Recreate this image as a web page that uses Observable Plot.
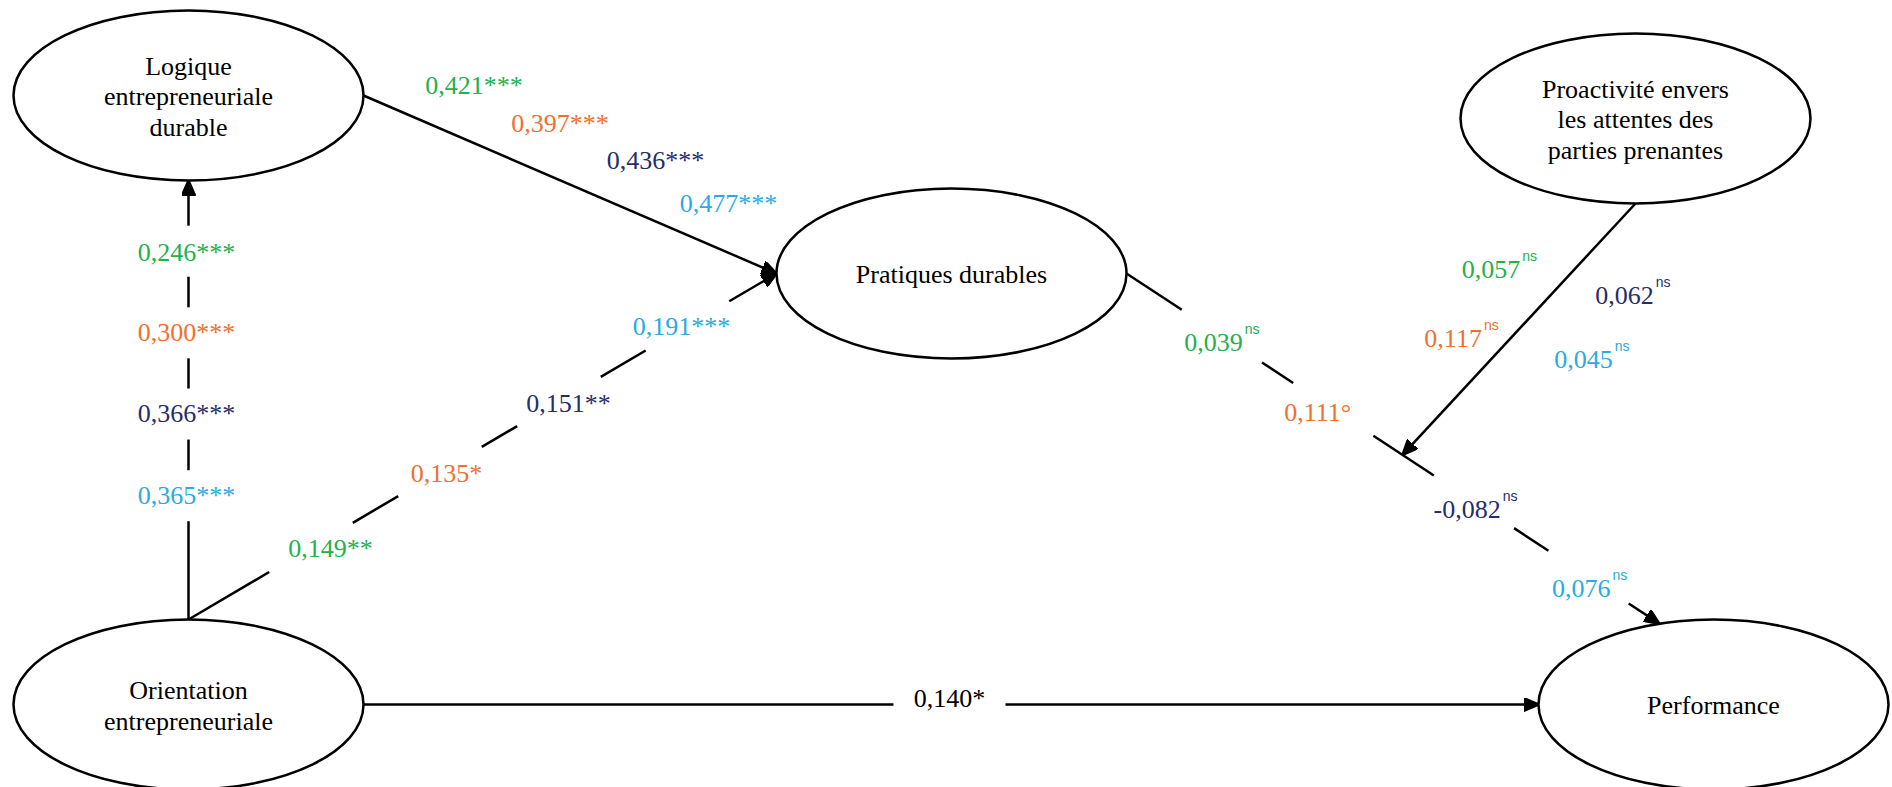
<!DOCTYPE html>
<html>
<head>
<meta charset="utf-8">
<script src="https://cdn.jsdelivr.net/npm/d3@7"></script>
<script src="https://cdn.jsdelivr.net/npm/@observablehq/plot@0.6"></script>
<style>
  html, body { margin: 0; padding: 0; background: #fff; }
  #chart svg { display: block; }
</style>
</head>
<body>
<div id="chart"></div>
<script>
// ---------------- DATA ----------------
const nodeIds = ["LED", "OE", "PD", "PRO", "PERF"];
const nodeLabels = [
  "Logique\nentrepreneuriale\ndurable",
  "Orientation\nentrepreneuriale",
  "Pratiques durables",
  "Proactivité envers\nles attentes des\nparties prenantes",
  "Performance"
];
// path coefficients, one value per group (green, orange, navy, light blue)
const coefOE_LED = [0.246, 0.300, 0.366, 0.365];
const sigOE_LED  = ["***", "***", "***", "***"];
const coefLED_PD = [0.421, 0.397, 0.436, 0.477];
const sigLED_PD  = ["***", "***", "***", "***"];
const coefOE_PD  = [0.149, 0.135, 0.151, 0.191];
const sigOE_PD   = ["**", "*", "**", "***"];
const coefPD_PERF = [0.039, 0.111, -0.082, 0.076];
const sigPD_PERF  = ["ns", "°", "ns", "ns"];
const coefPRO_MOD = [0.057, 0.117, 0.062, 0.045];
const sigPRO_MOD  = ["ns", "ns", "ns", "ns"];
const coefOE_PERF = [0.140];
const sigOE_PERF  = ["*"];

// ---------------- LAYOUT / STYLE ----------------
const W = 1892, H = 787;
const serif = "'Liberation Serif', 'Times New Roman', Times, serif";
const sans = "'Liberation Sans', Arial, sans-serif";
const groupColors = ["#22b14c", "#ee7030", "#262d6b", "#2aaae2"];
const nodePos = {LED: [188, 95], OE: [188, 704], PD: [951, 273], PRO: [1635, 118], PERF: [1713, 704]};
const RX = 175, RY = 85;

// edge: from/to = [node, port angle in degrees] ; place = [t along edge, dx, dy] per label
const edgeDefs = [
  {id: "OE_LED", from: ["OE", -90], to: ["LED", 90], coef: coefOE_LED, sig: sigOE_LED, colors: groupColors, gap: 25.5,
   place: [[0.839, -2, 1], [0.653, -2, 0], [0.468, -2, 0], [0.282, -2, 0]]},
  {id: "LED_PD", from: ["LED", 0], to: ["PD", 180], coef: coefLED_PD, sig: sigLED_PD, colors: groupColors, gap: 0,
   place: [[0.2676, 0, -57.6], [0.4758, 0, -56.7], [0.707, 0, -60.8], [0.8838, 0, -49.3]]},
  {id: "OE_PD", from: ["OE", -90], to: ["PD", 180], coef: coefOE_PD, sig: sigOE_PD, colors: groupColors, gap: 48.5,
   place: [[0.2083, 19.5, 1], [0.4277, 6.5, 2], [0.6301, 9.5, 2], [0.8486, -6, 0.6]]},
  {id: "PD_PERF", from: ["PD", 0], to: ["PERF", -108], coef: coefPD_PERF, sig: sigPD_PERF, colors: groupColors, gap: 48,
   place: [[0.179, 0, 6.5], [0.388, -15.5, 3.6], [0.652, 1.5, 7.5], [0.867, 1, 11.4]]},
  {id: "PRO_MOD", from: ["PRO", 90], to: {edge: "PD_PERF", t: 0.518}, coef: coefPRO_MOD, sig: sigPRO_MOD, colors: groupColors, gap: 0,
   place: [[0.2625, -74.9, 0], [0.537, -48.9, 0], [0.366, 82.7, 0], [0.6205, 101, 0]]},
  {id: "OE_PERF", from: ["OE", 0], to: ["PERF", 180], coef: coefOE_PERF, sig: sigOE_PERF, colors: ["#000000"], gap: 56,
   place: [[0.4987, 0, -6]]}
];

// ---------------- BUILD ----------------
const nodes = nodeIds.map((id, i) => ({id, label: nodeLabels[i], x: nodePos[id][0], y: nodePos[id][1]}));

function port([id, deg]) {
  const [cx, cy] = nodePos[id];
  const a = deg * Math.PI / 180;
  return [cx + RX * Math.cos(a), cy + RY * Math.sin(a)];
}
const edgeGeom = {};
for (const e of edgeDefs) {
  const p0 = port(e.from);
  let p1;
  if (Array.isArray(e.to)) p1 = port(e.to);
  else {
    const g = edgeGeom[e.to.edge];
    p1 = [g[0][0] + (g[1][0] - g[0][0]) * e.to.t, g[0][1] + (g[1][1] - g[0][1]) * e.to.t];
  }
  edgeGeom[e.id] = [p0, p1];
}

const segs = [];
for (const e of edgeDefs) {
  const [[x0, y0], [x1, y1]] = edgeGeom[e.id];
  const L = Math.hypot(x1 - x0, y1 - y0);
  const bounds = [0];
  if (e.gap) {
    for (const t of e.place.map(p => p[0]).sort((a, b) => a - b)) bounds.push(t - e.gap / L, t + e.gap / L);
  }
  bounds.push(1);
  for (let i = 0; i < bounds.length; i += 2) {
    const a = bounds[i], b = bounds[i + 1];
    segs.push({x1: x0 + (x1 - x0) * a, y1: y0 + (y1 - y0) * a, x2: x0 + (x1 - x0) * b, y2: y0 + (y1 - y0) * b,
               arrow: i + 2 === bounds.length});
  }
}

const ctx = document.createElement("canvas").getContext("2d");
function textWidth(s, font) { ctx.font = font; return ctx.measureText(s).width; }
const fmt = v => v.toFixed(3).replace(".", ",");
const labels = [], sups = [];
for (const e of edgeDefs) {
  const [[x0, y0], [x1, y1]] = edgeGeom[e.id];
  e.coef.forEach((v, i) => {
    const [t, dx, dy] = e.place[i];
    const px = x0 + (x1 - x0) * t + dx, py = y0 + (y1 - y0) * t + dy;
    const sig = e.sig[i];
    const main = sig === "ns" ? fmt(v) : fmt(v) + sig;
    const sup = sig === "ns" ? "ns" : "";
    const wm = textWidth(main, `26px ${serif}`);
    const ws = sup ? 2 + textWidth(sup, `14px ${sans}`) : 0;
    const left = px - (wm + ws) / 2;
    labels.push({x: left, y: py, text: main, color: e.colors[i]});
    if (sup) sups.push({x: left + wm + 2, y: py - 13, text: sup, color: e.colors[i]});
  });
}

const K = 0.5522847498;
const ellipseSymbol = {
  draw(context, size) {
    const rx = Math.sqrt(size / Math.PI), ry = rx * RY / RX;
    context.moveTo(rx, 0);
    context.bezierCurveTo(rx, ry * K, rx * K, ry, 0, ry);
    context.bezierCurveTo(-rx * K, ry, -rx, ry * K, -rx, 0);
    context.bezierCurveTo(-rx, -ry * K, -rx * K, -ry, 0, -ry);
    context.bezierCurveTo(rx * K, -ry, rx, -ry * K, rx, 0);
    context.closePath();
  }
};

function triMarker(color, context) {
  const doc = (context && context.document) || document;
  const ns = "http://www.w3.org/2000/svg";
  const m = doc.createElementNS(ns, "marker");
  m.setAttribute("viewBox", "-15 -7 15 14");
  m.setAttribute("markerWidth", "15");
  m.setAttribute("markerHeight", "14");
  m.setAttribute("markerUnits", "userSpaceOnUse");
  m.setAttribute("orient", "auto");
  m.setAttribute("refX", "0");
  m.setAttribute("refY", "0");
  const p = doc.createElementNS(ns, "path");
  p.setAttribute("d", "M-15,-6.5L0,0L-15,6.5Z");
  p.setAttribute("fill", color && color !== "none" ? color : "black");
  m.appendChild(p);
  return m;
}

function build(marker) {
  return Plot.plot({
    width: W, height: H,
    margin: 0,
    x: {domain: [0, W], range: [0, W], axis: null},
    y: {domain: [0, H], range: [0, H], axis: null},
    color: {type: "identity"},
    style: {background: "white", fontFamily: serif, overflow: "visible"},
    marks: [
      Plot.dot(nodes, {x: "x", y: "y", r: RX, symbol: ellipseSymbol, fill: "white", stroke: "black", strokeWidth: 2.5}),
      Plot.text(nodes, {x: "x", y: "y", text: "label", fontSize: 26, fontFamily: serif, lineHeight: 1.18, fill: "black"}),
      Plot.link(segs.filter(d => !d.arrow), {x1: "x1", y1: "y1", x2: "x2", y2: "y2", stroke: "black", strokeWidth: 2.5}),
      Plot.link(segs.filter(d => d.arrow), {x1: "x1", y1: "y1", x2: "x2", y2: "y2", stroke: "black", strokeWidth: 2.5, markerEnd: marker}),
      Plot.text(labels, {x: "x", y: "y", text: "text", fill: d => d.color, textAnchor: "start", fontSize: 26, fontFamily: serif}),
      Plot.text(sups, {x: "x", y: "y", text: "text", fill: d => d.color, textAnchor: "start", fontSize: 14, fontFamily: sans})
    ]
  });
}

let chart;
try { chart = build(triMarker); } catch (err) { chart = build("arrow"); }
document.getElementById("chart").appendChild(chart);
</script>
</body>
</html>
